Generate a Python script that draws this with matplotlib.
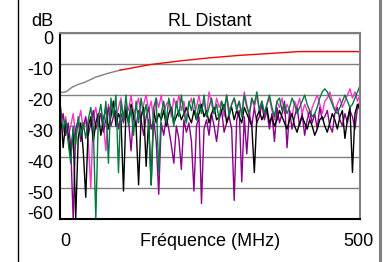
import matplotlib.pyplot as plt
from matplotlib.lines import Line2D
import numpy as np

plt.rcParams['font.family'] = ['Liberation Sans', 'DejaVu Sans']

# limit line
lim_freq = [1, 10, 20, 30, 40, 60, 80, 100, 150, 200, 250, 300, 350, 398, 500]
lim_db = [-19.2, -19, -17.5, -16.6, -16, -14.2, -13, -12, -10.2, -9, -8, -7.2, -6.6, -6, -6]

green = [-26, -31, -28, -35, -42, -30, -36, -27, -33, -29,
         -34, -28, -24, -31, -60, -27, -23, -30, -22, -42,
         -21, -27, -20, -45, -22, -28, -20, -30, -24, -33,
         -22, -29, -21, -27, -23, -30, -49, -24, -21, -45,
         -26, -22, -29, -21, -25, -30, -22, -27, -20, -26,
         -29, -22, -25, -21, -28, -23, -26, -20, -27, -24,
         -21, -26, -23, -28, -22, -25, -20, -27, -23, -21,
         -25, -22, -27, -20, -24, -26, -21, -23, -19, -25,
         -22, -26, -23, -20, -24, -27, -22, -21, -25, -23,
         -26, -24, -21, -23, -26, -24, -22, -20, -23, -25,
         -27, -26, -24, -21, -19, -18, -19, -21, -23, -25,
         -26, -24, -22, -20, -22, -24, -23, -21, -19, -17]

black = [-24, -37, -29, -33, -40, -31, -60, -34, -29, -38,
         -53, -30, -27, -35, -29, -26, -33, -28, -24, -31,
         -27, -22, -30, -26, -28, -51, -25, -29, -23, -27,
         -30, -49, -27, -24, -43, -28, -49, -25, -29, -26,
         -28, -25, -30, -26, -24, -29, -27, -25, -28, -26,
         -24, -27, -29, -25, -28, -26, -23, -27, -25, -29,
         -26, -24, -28, -27, -25, -23, -29, -26, -24, -28,
         -25, -27, -29, -24, -26, -28, -30, -45, -27, -25,
         -28, -26, -24, -29, -27, -30, -28, -25, -27, -29,
         -31, -28, -26, -30, -32, -29, -27, -29, -31, -28,
         -30, -33, -31, -28, -27, -30, -32, -29, -26, -28,
         -31, -27, -25, -34, -28, -24, -45, -26, -23, -25]

purple = [-30, -26, -33, -29, -36, -60, -31, -28, -35, -30,
          -27, -33, -29, -25, -31, -28, -26, -32, -28, -24,
          -30, -27, -25, -31, -26, -29, -24, -28, -38, -26,
          -30, -25, -28, -33, -27, -24, -31, -28, -35, -52,
          -29, -33, -27, -31, -36, -42, -30, -34, -44, -28,
          -32, -29, -35, -51, -30, -27, -55, -31, -28, -33,
          -26, -30, -35, -28, -25, -32, -29, -27, -31, -54,
          -28, -25, -48, -27, -39, -26, -30, -24, -29, -27,
          -23, -28, -25, -31, -26, -35, -24, -29, -26, -22,
          -37, -25, -31, -27, -24, -30, -26, -33, -28, -25,
          -29, -26, -31, -24, -28, -27, -25, -30, -32, -26,
          -24, -28, -30, -26, -29, -25, -27, -31, -24, -22]

magenta = [-28, -32, -27, -34, -30, -26, -33, -29, -25, -31,
           -28, -35, -50, -27, -24, -30, -26, -29, -38, -23,
           -26, -22, -28, -24, -21, -27, -23, -25, -20, -26,
           -24, -21, -27, -23, -20, -25, -22, -28, -21, -24,
           -20, -26, -23, -22, -27, -21, -24, -20, -25, -22,
           -28, -23, -21, -26, -24, -20, -25, -22, -27, -19,
           -23, -26, -21, -24, -22, -27, -20, -25, -23, -21,
           -24, -22, -26, -19, -23, -27, -21, -24, -20, -25,
           -22, -26, -23, -21, -25, -28, -22, -24, -21, -26,
           -23, -25, -27, -22, -24, -21, -26, -23, -25, -28,
           -24, -22, -20, -23, -26, -22, -21, -19, -22, -25,
           -23, -21, -24, -22, -20, -18, -21, -19, -22, -20]

freq = np.linspace(1, 500, len(green))

yticks = [0, -10, -20, -30, -40, -50, -60]
ytick_labels = ['0', '-10', '-20', '-30', '-40', '-50', '-60']

fig = plt.figure(figsize=(3.86, 2.62), dpi=100)
ax = fig.add_axes([60 / 386, 43 / 262, 300 / 386, 186 / 262])

ax.plot(freq, magenta, color='#ff33cc', lw=1)
ax.plot(freq, purple, color='#8b008b', lw=1)
ax.plot(freq, black, color='black', lw=1)
ax.plot(freq, green, color='#007a3d', lw=1)

split = lim_freq.index(100)
ax.plot(lim_freq[:split + 1], lim_db[:split + 1], color='#808080', lw=1)
ax.plot(lim_freq[split:], lim_db[split:], color='red', lw=1)

ax.set_xlim(0, 500)
ax.set_ylim(-60, 0)
ax.set_yticks(yticks)
ax.set_xticks([])
ax.yaxis.grid(True, color='#808080', lw=1)
ax.tick_params(left=False, labelleft=False)
for s in ['left', 'bottom']:
    ax.spines[s].set_color('black')
    ax.spines[s].set_linewidth(1.5)
for s in ['top', 'right']:
    ax.spines[s].set_color('#808080')
    ax.spines[s].set_linewidth(1.5)

fs = 13
# tick labels
for v, lab in zip(yticks, ytick_labels):
    yy = v - 2 if v > -60 else -58.7
    ax.text(-0.023, yy, lab, transform=ax.get_yaxis_transform(),
            ha='right', va='center', fontsize=fs)
fig.text(42 / 386, 1 - 21 / 262, 'dB', ha='center', va='center', fontsize=fs)
fig.text(210 / 386, 1 - 21 / 262, 'RL Distant', ha='center', va='center', fontsize=fs)
fig.text(65 / 386, 1 - 241 / 262, '0', ha='center', va='center', fontsize=fs)
fig.text(210 / 386, 1 - 241 / 262, 'Fréquence (MHz)', ha='center', va='center', fontsize=fs)
fig.text(358 / 386, 1 - 241 / 262, '500', ha='center', va='center', fontsize=fs)

# side frame lines
fig.add_artist(Line2D([17.5 / 386, 17.5 / 386], [0, 1], color='black', lw=1))
fig.add_artist(Line2D([380 / 386, 380 / 386], [0, 1], color='#808080', lw=2.2))

fig.savefig('out.png', dpi=100)
